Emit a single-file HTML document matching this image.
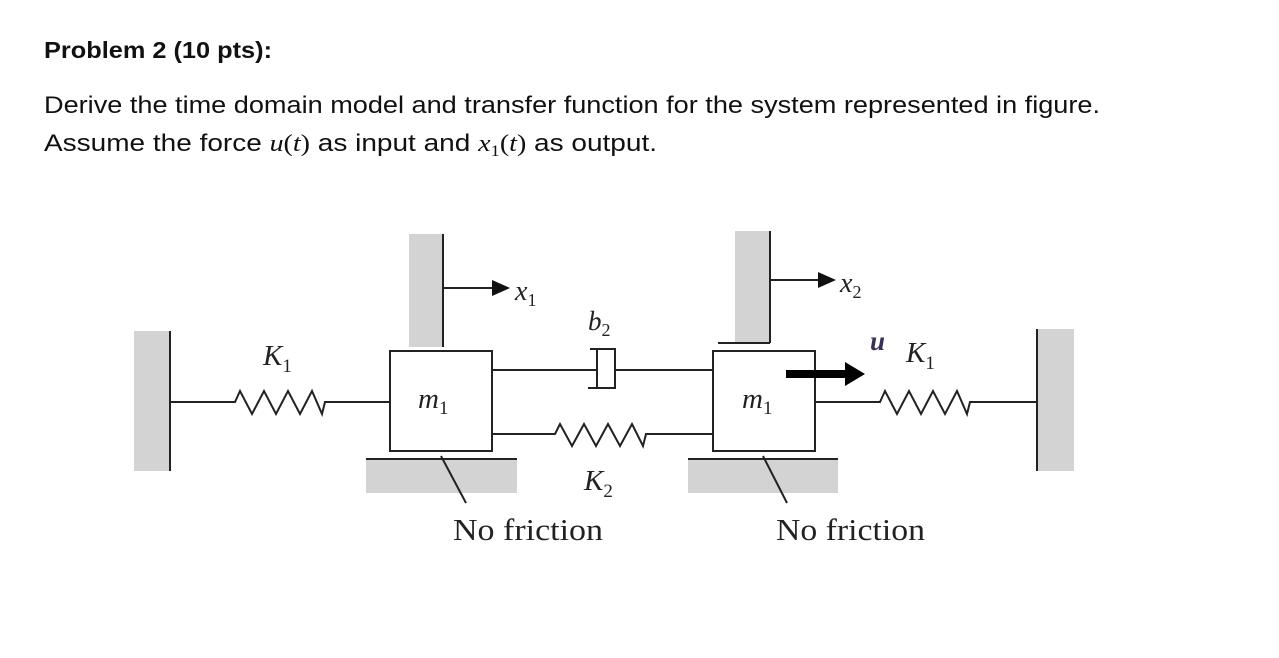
<!DOCTYPE html>
<html><head><style>
html,body{margin:0;padding:0;background:#fff;}
svg{display:block;}
</style></head><body>
<svg width="1279" height="658" viewBox="0 0 1279 658" xmlns="http://www.w3.org/2000/svg">
<rect width="1279" height="658" fill="#fff"/>
<g font-family="Liberation Sans, sans-serif" fill="#111">
<text x="44" y="58" font-size="23" font-weight="bold" textLength="228" lengthAdjust="spacingAndGlyphs">Problem 2 (10 pts):</text>
<text x="44" y="113" font-size="24" textLength="1056" lengthAdjust="spacingAndGlyphs">Derive the time domain model and transfer function for the system represented in figure.</text>
<text x="44" y="151" font-size="24" textLength="613" lengthAdjust="spacingAndGlyphs">Assume the force <tspan font-family="Liberation Serif, serif" font-style="italic">u</tspan><tspan font-family="Liberation Serif, serif">(</tspan><tspan font-family="Liberation Serif, serif" font-style="italic">t</tspan><tspan font-family="Liberation Serif, serif">)</tspan> as input and <tspan font-family="Liberation Serif, serif" font-style="italic">x</tspan><tspan font-family="Liberation Serif, serif" font-size="16" dy="5">1</tspan><tspan font-family="Liberation Serif, serif" dy="-5">(</tspan><tspan font-family="Liberation Serif, serif" font-style="italic">t</tspan><tspan font-family="Liberation Serif, serif">)</tspan> as output.</text>
</g>
<g fill="#d3d3d3">
<rect x="134" y="331" width="36" height="140"/>
<rect x="409" y="234" width="34" height="113"/>
<rect x="366" y="459" width="151" height="34"/>
<rect x="735" y="231" width="35" height="112"/>
<rect x="688" y="459" width="150" height="34"/>
<rect x="1037" y="329" width="37" height="142"/>
</g>
<g stroke="#222" stroke-width="2" fill="none">
<line x1="170" y1="331" x2="170" y2="471"/>
<polyline points="170,402 235,402 240,391 252,414 264,391 276,414 288,391 300,414 312,391 322,414 325,402 390,402"/>
<rect x="390" y="351" width="102" height="100" fill="#fff"/>
<line x1="443" y1="234" x2="443" y2="347"/>
<line x1="443" y1="288" x2="494" y2="288"/>
<line x1="366" y1="459" x2="517" y2="459"/>
<line x1="441" y1="456" x2="466" y2="503"/>
<line x1="492" y1="370" x2="597" y2="370"/>
<polyline points="590,349 615,349 615,388 588,388"/>
<line x1="597" y1="349" x2="597" y2="388"/>
<line x1="615" y1="370" x2="713" y2="370"/>
<polyline points="492,434 555,434 560,424 572,446 584,424 596,446 608,424 620,446 632,424 643,446 646,434 713,434"/>
<line x1="770" y1="231" x2="770" y2="343"/>
<line x1="718" y1="343" x2="770" y2="343"/>
<line x1="770" y1="280" x2="820" y2="280"/>
<rect x="713" y="351" width="102" height="100" fill="#fff"/>
<line x1="688" y1="459" x2="838" y2="459"/>
<line x1="763" y1="456" x2="787" y2="503"/>
<polyline points="815,402 880,402 885,391 897,414 909,391 921,414 933,391 945,414 957,391 967,414 970,402 1037,402"/>
<line x1="1037" y1="329" x2="1037" y2="471"/>
</g>
<polygon points="492,280 510,288 492,296" fill="#111"/>
<polygon points="818,272 836,280 818,288" fill="#111"/>
<rect x="786" y="370" width="62" height="8" fill="#000"/>
<polygon points="845,362 865,374 845,386" fill="#000"/>
<g font-family="Liberation Serif, serif" fill="#222" font-style="italic">
<text x="515" y="300" font-size="28">x<tspan font-size="18" dy="6" font-style="normal">1</tspan></text>
<text x="840" y="292" font-size="28">x<tspan font-size="18" dy="6" font-style="normal">2</tspan></text>
<text x="588" y="330" font-size="27">b<tspan font-size="18" dy="6" font-style="normal">2</tspan></text>
<text x="263" y="365" font-size="29">K<tspan font-size="19" dy="7" font-style="normal">1</tspan></text>
<text x="906" y="362" font-size="29">K<tspan font-size="19" dy="7" font-style="normal">1</tspan></text>
<text x="584" y="490" font-size="29">K<tspan font-size="19" dy="7" font-style="normal">2</tspan></text>
<text x="418" y="408" font-size="29">m<tspan font-size="19" dy="6" font-style="normal">1</tspan></text>
<text x="742" y="408" font-size="29">m<tspan font-size="19" dy="6" font-style="normal">1</tspan></text>
<text x="870" y="350" font-size="27" font-weight="bold" fill="#3a2f55">u</text>
</g>
<g font-family="Liberation Serif, serif" fill="#222" font-size="31">
<text x="453" y="540" textLength="150" lengthAdjust="spacingAndGlyphs">No friction</text>
<text x="776" y="540" textLength="149" lengthAdjust="spacingAndGlyphs">No friction</text>
</g>
</svg>
</body></html>
